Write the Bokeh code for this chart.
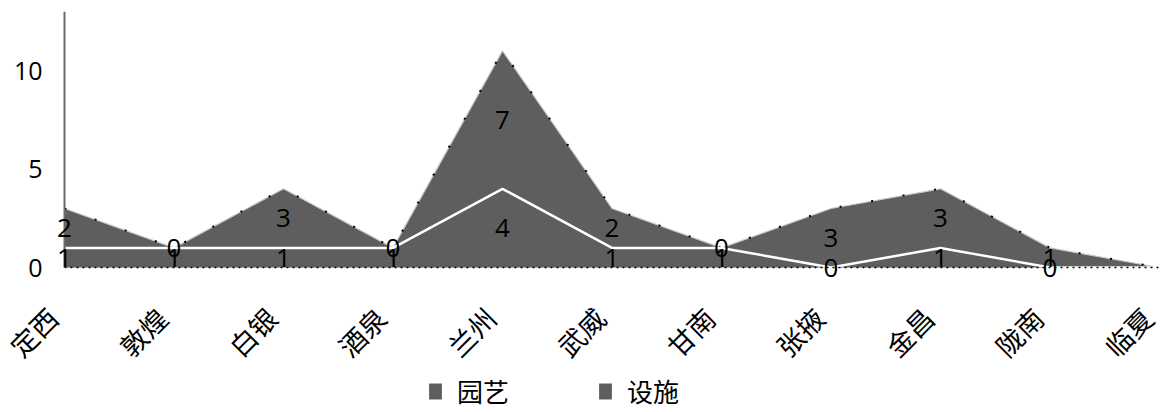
import math
from bokeh.plotting import figure
from bokeh.models import ColumnDataSource, Range1d, Legend, LegendItem, LabelSet
from bokeh.core.properties import value
from bokeh.embed import file_html
from bokeh.resources import INLINE

categories = ["定西", "敦煌", "白银", "酒泉", "兰州", "武威", "甘南", "张掖", "金昌", "陇南", "临夏"]
yuanyi = [1, 1, 1, 1, 4, 1, 1, 0, 1, 0, 0]
sheshi = [2, 0, 3, 0, 7, 2, 0, 3, 3, 1, 0]
series_names = ["园艺", "设施"]
y_ticks = [0, 5, 10]
Y_MAX = 13

x = list(range(len(categories)))
total = [a + b for a, b in zip(yuanyi, sheshi)]
src = ColumnDataSource(dict(x=x, yy=yuanyi, ss=sheshi, total=total))

FILL = "#5e5e5e"
PX_X = 109.5   # pixels per category
PX_Y = 19.7    # pixels per unit
FW, FH = 1159, 398

p = figure(frame_width=FW, frame_height=FH, output_backend="svg", toolbar_location=None,
           x_range=Range1d(-64 / PX_X, -64 / PX_X + FW / PX_X),
           y_range=Range1d(Y_MAX - FH / PX_Y, Y_MAX),
           min_border_left=0, min_border_right=0, min_border_top=11, min_border_bottom=0)
p.outline_line_color = None
p.grid.grid_line_color = None
p.axis.visible = False
p.background_fill_color = "white"

rs = p.varea_stack(["yy", "ss"], x="x", source=src, color=[FILL, FILL])

# light edge on top of stack
p.line("x", "total", source=src, color="#c8c8c8", line_width=1.2)
# sparse dotted outline of the top series
p.line("x", "total", source=src, color="black", line_width=2, line_dash="2 30")
# white boundary between series
p.line("x", "yy", source=src, color="white", line_width=2.5)
# dotted baseline
zero = [0] * len(x)
p.line(x, zero, color="black", line_width=1.5, line_dash="2 4")

# value axis line and tick labels
p.segment(x0=[x[0]], y0=[y_ticks[0]], x1=[x[0]], y1=[Y_MAX], line_color="#6a6a6a", line_width=2)
tick_src = ColumnDataSource(dict(x=[x[0]] * len(y_ticks), y=y_ticks, t=[str(v) for v in y_ticks]))
p.add_layout(LabelSet(x="x", y="y", text="t", source=tick_src, text_align="right",
                      text_baseline="middle", x_offset=-22, text_font=value("Open Sans"),
                      text_font_size="25px", text_color="black"))

# data labels at segment midpoints (last category has none)
n = len(categories) - 1
lab = ColumnDataSource(dict(
    x=x[:n] * 2,
    y=[v / 2 for v in yuanyi[:n]] + [a + b / 2 for a, b in zip(yuanyi[:n], sheshi[:n])],
    t=[str(v) for v in yuanyi[:n]] + [str(v) for v in sheshi[:n]],
))
p.add_layout(LabelSet(x="x", y="y", text="t", source=lab, text_align="center",
                      text_baseline="middle", text_font=value("Open Sans"), text_font_size="26px",
                      text_color="black"))

# category labels, rotated
cat_src = ColumnDataSource(dict(x=x, y=zero, t=categories))
p.add_layout(LabelSet(x="x", y="y", text="t", source=cat_src, angle=math.pi / 4,
                      text_align="right", text_baseline="middle", x_offset=-12, y_offset=-45,
                      text_font=value("Noto Sans CJK SC"), text_font_size="27px",
                      text_color="black"))

legend = Legend(items=[LegendItem(label=series_names[0], renderers=[rs[0]]),
                       LegendItem(label=series_names[1], renderers=[rs[1]])],
                orientation="horizontal", location=(427, 0),
                label_text_font="Noto Sans CJK SC", label_text_font_size="26px",
                label_text_color="black", glyph_width=16, glyph_height=20,
                spacing=88, label_standoff=14, border_line_color=None,
                background_fill_alpha=0, margin=0, padding=0)
p.add_layout(legend, "center")

open("out.html", "w").write(file_html(p, INLINE))
